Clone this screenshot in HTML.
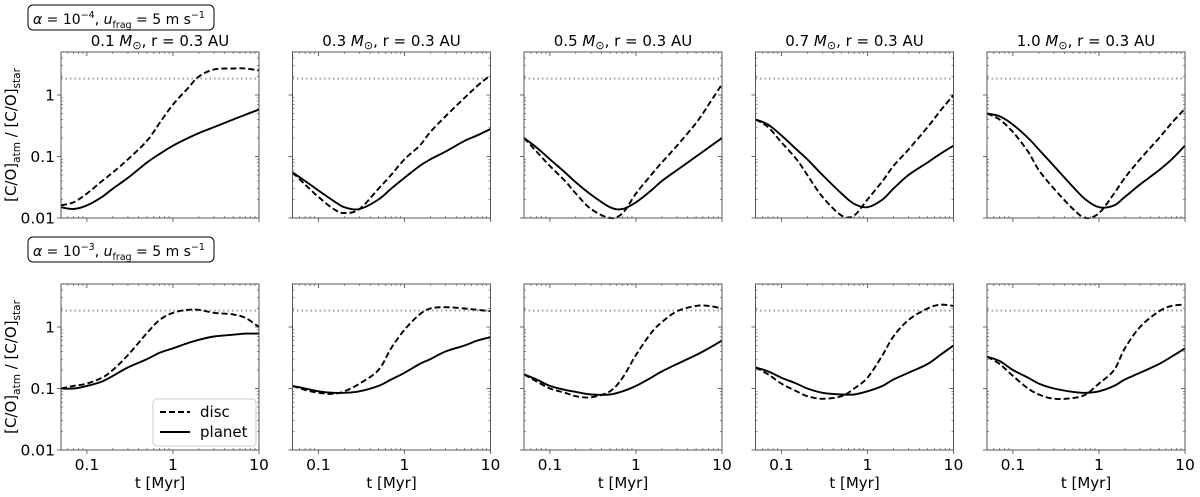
<!DOCTYPE html>
<html><head><meta charset="utf-8"><style>
body{margin:0;background:#fff;width:1200px;height:493px;overflow:hidden;font-family:"DejaVu Sans","Liberation Sans",sans-serif}
svg text{font-family:"DejaVu Sans","Liberation Sans",sans-serif;fill:#000}
</style></head><body>
<svg id="fig" width="1200" height="493" xmlns="http://www.w3.org/2000/svg"></svg>
<script>
const times=[0.05,0.07,0.1,0.15,0.2,0.3,0.5,0.7,1,1.5,2,3,5,7,10];
const panelTitles=["0.1","0.3","0.5","0.7","1.0"];
const starRatio=1.85;
const discTop=[
[0.016,0.018,0.025,0.04,0.055,0.09,0.18,0.35,0.7,1.3,2.0,2.6,2.7,2.7,2.5],
[0.055,0.035,0.022,0.014,0.012,0.014,0.03,0.05,0.09,0.15,0.25,0.45,0.9,1.4,2.1],
[0.2,0.12,0.07,0.04,0.025,0.014,0.01,0.012,0.025,0.05,0.08,0.15,0.35,0.7,1.5],
[0.4,0.3,0.17,0.09,0.05,0.022,0.011,0.011,0.02,0.04,0.07,0.13,0.3,0.55,1.0],
[0.5,0.4,0.25,0.12,0.06,0.03,0.014,0.01,0.012,0.025,0.045,0.09,0.2,0.35,0.6]];
const planetTop=[
[0.015,0.014,0.016,0.022,0.03,0.045,0.08,0.11,0.15,0.2,0.24,0.3,0.4,0.48,0.58],
[0.055,0.04,0.028,0.019,0.015,0.014,0.02,0.03,0.045,0.07,0.09,0.12,0.18,0.22,0.28],
[0.2,0.14,0.09,0.055,0.038,0.024,0.015,0.014,0.018,0.028,0.04,0.06,0.1,0.14,0.2],
[0.4,0.33,0.22,0.13,0.09,0.05,0.025,0.017,0.015,0.02,0.03,0.05,0.08,0.11,0.15],
[0.5,0.45,0.33,0.2,0.13,0.07,0.032,0.02,0.015,0.016,0.022,0.035,0.06,0.09,0.15]];
const discBot=[
[0.1,0.11,0.12,0.15,0.2,0.35,0.8,1.3,1.7,1.9,1.9,1.7,1.6,1.4,1.0],
[0.11,0.095,0.085,0.082,0.09,0.12,0.2,0.45,0.9,1.6,2.0,2.1,2.0,1.9,1.8],
[0.17,0.13,0.1,0.085,0.075,0.072,0.09,0.15,0.35,0.8,1.2,1.8,2.2,2.2,2.0],
[0.22,0.17,0.12,0.09,0.075,0.068,0.075,0.1,0.15,0.35,0.7,1.3,2.0,2.3,2.2],
[0.33,0.25,0.16,0.1,0.08,0.068,0.07,0.08,0.12,0.2,0.45,1.0,1.8,2.2,2.3]];
const planetBot=[
[0.1,0.1,0.11,0.13,0.16,0.22,0.3,0.38,0.45,0.55,0.62,0.7,0.75,0.78,0.78],
[0.11,0.1,0.09,0.085,0.085,0.09,0.11,0.14,0.18,0.25,0.3,0.4,0.5,0.6,0.68],
[0.17,0.14,0.11,0.095,0.088,0.08,0.08,0.09,0.11,0.15,0.19,0.25,0.35,0.45,0.6],
[0.22,0.19,0.15,0.12,0.1,0.085,0.08,0.08,0.09,0.11,0.14,0.18,0.25,0.35,0.5],
[0.33,0.28,0.2,0.15,0.12,0.1,0.088,0.085,0.09,0.11,0.14,0.18,0.25,0.33,0.45]];
const yTicks=[0.01,0.1,1];const yLabels=["0.01","0.1","1"];
const xTicks=[0.1,1,10];const xLabels=["0.1","1","10"];

const svg=document.getElementById('fig');const NS="http://www.w3.org/2000/svg";
function mk(tag,attrs,parent){const e=document.createElementNS(NS,tag);for(const k in attrs)e.setAttribute(k,attrs[k]);(parent||svg).appendChild(e);return e;}
const W=198,H=166,X0=61,DX=231.5,rowsY=[52,284];
const XMIN=Math.log10(0.05),XMAX=1,YMIN=-2,YMAX=Math.log10(5);
function sx(L,t){return L+(Math.log10(t)-XMIN)/(XMAX-XMIN)*W;}
function sy(T,v){return T+H-(Math.log10(v)-YMIN)/(YMAX-YMIN)*H;}
function pathD(L,T,vals){
  const p=times.map((t,i)=>[sx(L,t),sy(T,vals[i])]);
  let d="M"+p[0][0].toFixed(1)+","+p[0][1].toFixed(1);
  for(let i=0;i<p.length-1;i++){const p0=p[Math.max(0,i-1)],p1=p[i],p2=p[i+1],p3=p[Math.min(p.length-1,i+2)];
    const c1=[p1[0]+(p2[0]-p0[0])/6,p1[1]+(p2[1]-p0[1])/6],c2=[p2[0]-(p3[0]-p1[0])/6,p2[1]-(p3[1]-p1[1])/6];
    d+=` C${c1[0].toFixed(1)},${c1[1].toFixed(1)} ${c2[0].toFixed(1)},${c2[1].toFixed(1)} ${p2[0].toFixed(1)},${p2[1].toFixed(1)}`;}
  return d;}
for(let r=0;r<2;r++){
  const T=rowsY[r];
  const box=mk('g',{});
  
  
  mk('rect',{x:28,y:T-47,width:186,height:25,rx:5,fill:'#fff',stroke:'#000','stroke-width':1},box);
  const tx=mk('text',{x:33,y:T-28,'font-size':14},box);
  tx.innerHTML=`<tspan font-style="italic">α</tspan> = 10<tspan dy="-6" font-size="9.5">−${r?3:4}</tspan><tspan dy="6">, </tspan><tspan font-style="italic">u</tspan><tspan dy="4" font-size="9.5">frag</tspan><tspan dy="-4"> = 5 m s</tspan><tspan dy="-6" font-size="9.5">−1</tspan>`;
  for(let c=0;c<5;c++){
    const L=X0+c*DX;
    const g=mk('g',{});
    
    
    if(r===0){const tt=mk('text',{x:L+W/2,y:T-6,'font-size':15,'text-anchor':'middle'},g);
      
      tt.innerHTML=`${panelTitles[c]} <tspan font-style="italic">M</tspan><tspan dy="3" font-size="11">⊙</tspan><tspan dy="-3">, r = 0.3 AU</tspan>`;}
    for(let e=-2;e<1;e++)for(let m=2;m<10;m++){const v=m*Math.pow(10,e);const y=sy(T,v);if(y<T)continue;
      mk('line',{x1:L,x2:L+2,y1:y,y2:y,stroke:'#444','stroke-width':0.6},g);mk('line',{x1:L+W-2,x2:L+W,y1:y,y2:y,stroke:'#444','stroke-width':0.6},g);}
    for(let e=-2;e<1;e++)for(let m=1;m<10;m++){const t=m*Math.pow(10,e);if(t<0.05||t>10||m===1)continue;const x=sx(L,t);
      mk('line',{x1:x,x2:x,y1:T+H,y2:T+H-2,stroke:'#444','stroke-width':0.6},g);mk('line',{x1:x,x2:x,y1:T,y2:T+2,stroke:'#444','stroke-width':0.6},g);}
    yTicks.forEach((v,i)=>{const y=sy(T,v);mk('line',{x1:L-4,x2:L,y1:y,y2:y,stroke:'#444','stroke-width':0.8},g);mk('line',{x1:L+W,x2:L+W-4,y1:y,y2:y,stroke:'#444','stroke-width':0.8},g);
      if(c===0){const t=mk('text',{x:L-6,y:y+5.5,'font-size':15.5,'text-anchor':'end'},g);t.textContent=yLabels[i];}});
    xTicks.forEach((v,i)=>{const x=sx(L,v);mk('line',{x1:x,x2:x,y1:T+H,y2:T+H+4,stroke:'#444','stroke-width':0.8},g);mk('line',{x1:x,x2:x,y1:T,y2:T+4,stroke:'#444','stroke-width':0.8},g);
      if(r===1){const t=mk('text',{x:x,y:T+H+20,'font-size':15.5,'text-anchor':'middle'},g);t.textContent=xLabels[i];}});
    const sl=mk('line',{x1:L,x2:L+W,y1:sy(T,starRatio),y2:sy(T,starRatio),stroke:'#999','stroke-width':1.8,'stroke-dasharray':'1.5 3'},g);
    
    const dv=r?discBot[c]:discTop[c],pv=r?planetBot[c]:planetTop[c];
    const pd=mk('path',{d:pathD(L,T,dv),fill:'none',stroke:'#000','stroke-width':1.9,'stroke-dasharray':'6 3'},g);
    
    const pp=mk('path',{d:pathD(L,T,pv),fill:'none',stroke:'#000','stroke-width':1.9},g);
    
    mk('rect',{x:L,y:T,width:W,height:H,fill:'none',stroke:'#555','stroke-width':1},g);
    if(r===1){const xl=mk('text',{x:L+W/2,y:T+H+38,'font-size':15,'text-anchor':'middle'},g);
      xl.textContent='t [Myr]';}
    if(c===0){const yl=mk('text',{x:0,y:0,'font-size':15,'text-anchor':'middle',transform:`translate(16,${T+H/2}) rotate(-90)`},g);
      
      yl.innerHTML='[C/O]<tspan dy="4" font-size="10.5">atm</tspan><tspan dy="-4"> / [C/O]</tspan><tspan dy="4" font-size="10.5">star</tspan>';}
  }
}
const lg=mk('g',{});

mk('rect',{x:153,y:399,width:103,height:47,rx:4,fill:'#fff',stroke:'#ccc'},lg);
mk('line',{x1:160,x2:190,y1:412,y2:412,stroke:'#000','stroke-width':1.9,'stroke-dasharray':'6 3'},lg);
mk('line',{x1:160,x2:190,y1:432,y2:432,stroke:'#000','stroke-width':1.9},lg);
const l1=mk('text',{x:200,y:417,'font-size':15},lg);l1.textContent='disc';
const l2=mk('text',{x:200,y:437,'font-size':15},lg);l2.textContent='planet';
</script>
</body></html>
